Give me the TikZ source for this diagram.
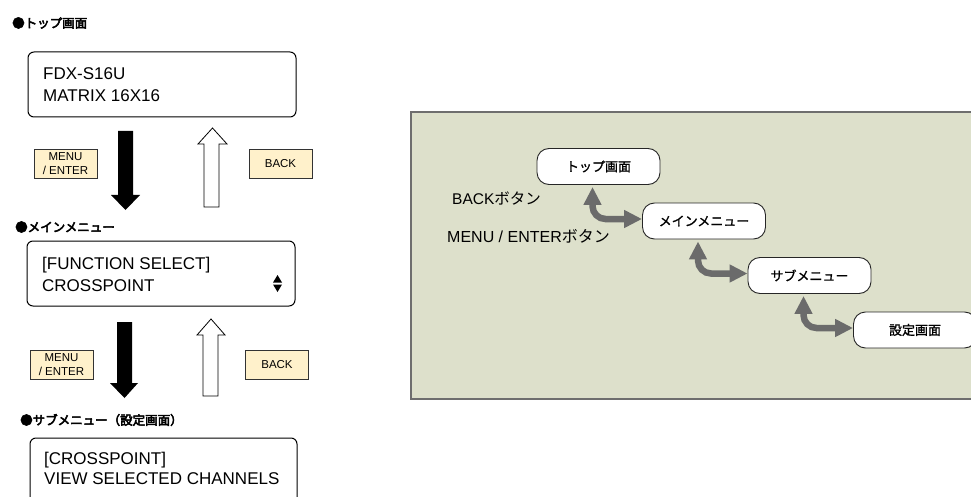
\documentclass[tikz,border=0pt]{standalone}
\usepackage{fontspec}
\setmainfont{Liberation Sans}
\newfontfamily\jp{Noto Sans CJK JP}
\newfontfamily\jpm{Noto Sans CJK JP}[FakeBold=1.2]
\newfontfamily\jpb{Noto Sans CJK JP}[FakeBold=4]
\usetikzlibrary{arrows.meta}
\definecolor{panelfill}{HTML}{DDE0CB}
\definecolor{panelline}{HTML}{6E6E6E}
\definecolor{keyfill}{HTML}{FFF1CB}
\definecolor{garrowc}{HTML}{6B6B6B}
\begin{document}
\begin{tikzpicture}[x=1pt,y=-1pt,
  lcd/.style={draw=black, line width=1pt, rounded corners=6pt, minimum width=268pt, minimum height=65pt, inner sep=0pt},
  lcdtext/.style={font=\fontsize{17}{22}\selectfont, align=left, anchor=west, inner sep=0pt},
  title/.style={font=\jpb\fontsize{12.5}{15}\selectfont, anchor=west, inner sep=0pt},
  keybox/.style={draw=black!80, fill=keyfill, line width=0.8pt, minimum width=63pt, minimum height=29pt, inner sep=0pt, font=\fontsize{11.5}{13.5}\selectfont, align=center},
  downblock/.style={fill=black},
  upblock/.style={draw=black, fill=white, line width=0.8pt},
  screen/.style={draw=black!85, fill=white, line width=0.9pt, rounded corners=12pt, minimum width=123pt, minimum height=36pt, inner sep=0pt, font=\jpm\fontsize{13}{15}\selectfont},
  garrow/.style={draw=garrowc, line width=6.5pt, rounded corners=13pt, {Triangle[width=17pt,length=18pt]}-{Triangle[width=17pt,length=18pt]}},
  plabel/.style={font=\fontsize{15.5}{18}\selectfont, anchor=west, inner sep=0pt}
]
\useasboundingbox (0,0) rectangle (971,497);

% ---- left column ----
\node[title] (t1) at (12,23) {●トップ画面};
\node[lcd] (lcd1) at (162,84.5) {};
\node[lcdtext] (lcd1t) at (43,84.5) {FDX-S16U\\MATRIX 16X16};

\fill[downblock] (118,131) -- (133,131) -- (133,195) -- (140,195) -- (125.5,210) -- (111,195) -- (118,195) -- cycle;
\draw[upblock] (204,207) -- (219,207) -- (219,144) -- (227,144) -- (212.5,128) -- (198,144) -- (204,144) -- cycle;
\node[keybox] (k1) at (65.5,163.5) {MENU\\/ ENTER};
\node[keybox] (b1) at (280.5,163.5) {BACK};

\node[title] (t2) at (15,227) {●メインメニュー};
\node[lcd] (lcd2) at (161,273.5) {};
\node[lcdtext] (lcd2t) at (42,274) {[FUNCTION SELECT]\\CROSSPOINT};
\fill (273,282.5) -- (282,282.5) -- (277.5,275) -- cycle;
\fill (273,284.5) -- (282,284.5) -- (277.5,292) -- cycle;

\fill[downblock] (117,322) -- (132,322) -- (132,383) -- (138,383) -- (124.5,398) -- (110,383) -- (117,383) -- cycle;
\draw[upblock] (203,396) -- (218,396) -- (218,335) -- (225,335) -- (211,319) -- (197,335) -- (203,335) -- cycle;
\node[keybox] (k2) at (61.5,364.5) {MENU\\/ ENTER};
\node[keybox] (b2) at (277,365) {BACK};

\node[title] (t3) at (20,420) {●サブメニュー（設定画面）};
\node[lcd, minimum width=267pt, minimum height=75pt] (lcd3) at (163.5,475.5) {};
\node[lcdtext, font=\fontsize{17}{20}\selectfont] (lcd3t) at (44,468) {[CROSSPOINT]\\VIEW SELECTED CHANNELS};

% ---- right panel ----
\draw[draw=panelline, fill=panelfill, line width=1.2pt] (411,112) rectangle (995,399);
\node[screen] (s1) at (598.5,166.5) {トップ画面};
\node[screen] (s2) at (704,221) {メインメニュー};
\node[screen] (s3) at (809.5,275.5) {サブメニュー};
\node[screen] (s4) at (915,330) {設定画面};

\draw[garrow] ([xshift=-6pt,yshift=-2pt]s1.south) |- ([yshift=2pt]s2.west);
\draw[garrow] ([xshift=-6pt,yshift=-2pt]s2.south) |- ([yshift=2pt]s3.west);
\draw[garrow] ([xshift=-6pt,yshift=-2pt]s3.south) |- ([yshift=2pt]s4.west);

\node[plabel] (lb1) at (452,198) {BACK{\jp ボタン}};
\node[plabel, font=\fontsize{16}{18}\selectfont] (lb2) at (447,236) {MENU / ENTER{\jp ボタン}};
\end{tikzpicture}
\end{document}
